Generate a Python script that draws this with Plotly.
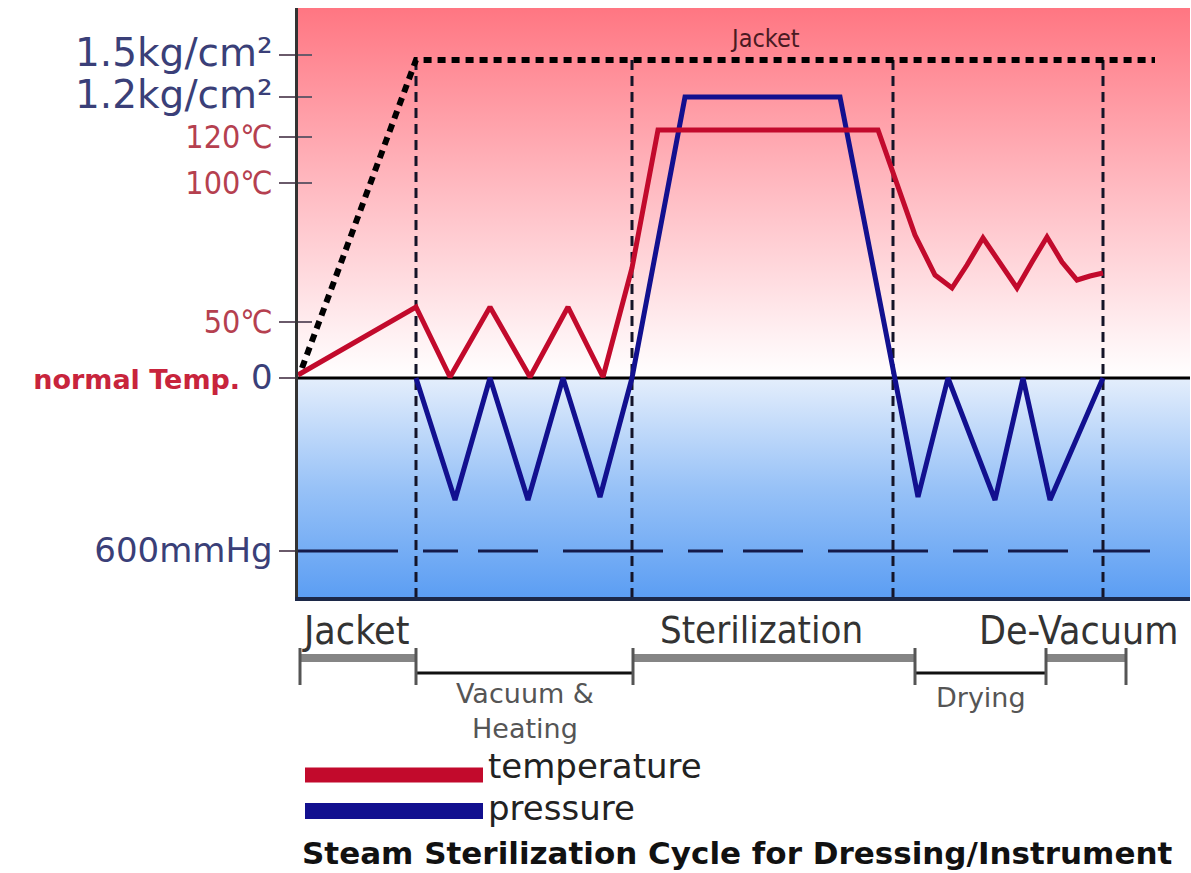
import plotly.graph_objects as go

# ---------------- data (time units, level units: 0 = normal temp / 0 pressure) -------------
temp_t = [0, 118, 152, 192, 232, 270, 305, 334, 360, 580, 617, 637, 654, 669, 685, 702, 719, 734, 749, 764, 779, 792, 805]
temp_v = [3, 71, 1, 71, 1, 71, 1, 110, 248, 248, 143, 103, 90, 113, 140, 116, 90, 116, 141, 116, 98, 102, 105]

pres_t = [118, 157, 192, 230, 265, 302, 334, 387, 542, 620, 650, 697, 725, 752, 805]
pres_v = [0, -122, 0, -122, 0, -119, 0, 281, 281, -119, 0, -122, 0, -122, 0]

jacket_t = [4, 118, 857]
jacket_v = [10, 318, 318]

vacuum_t = [0, 852]
vacuum_level = -173

phase_lines_t = [118, 334, 595, 805]

tick_vals = [323, 281, 241, 195, 56, 0, -173]
tick_text = [
    '<span style="color:#3a3f78;font-family:DejaVu Sans;font-size:39px">1.5kg/cm²</span>',
    '<span style="color:#3a3f78;font-family:DejaVu Sans;font-size:39px">1.2kg/cm²</span>',
    '<span style="color:#b5404f">120℃</span>',
    '<span style="color:#b5404f">100℃</span>',
    '<span style="color:#b5404f">50℃</span>',
    '<span style="color:#c8243c;font-family:DejaVu Sans;font-size:27px;font-weight:bold">normal Temp.</span>'
    '<span style="color:#3a3f78;font-family:DejaVu Sans;font-size:34px"> 0</span>',
    '<span style="color:#3a3f78;font-family:DejaVu Sans;font-size:34px">600mmHg</span>',
]

phase_names = ["Jacket", "Vacuum &amp;<br>Heating", "Sterilization", "Drying", "De-Vacuum"]
phase_edges = [2, 118, 335, 617, 748, 828]
phase_upper = [True, False, True, False, True]

X_RANGE = [0, 892]
Y_RANGE = [-219, 370]

COND = "DejaVu Sans Condensed, Liberation Sans Narrow, DejaVu Sans"
REG = "DejaVu Sans, Liberation Sans"
RED = "#c20a2c"
BLUE = "#12108f"

PLOT_TOP_PX, PLOT_BOT_PX = 8, 597


def py(p):
    """pixel row -> paper y"""
    return (PLOT_BOT_PX - p) / (PLOT_BOT_PX - PLOT_TOP_PX)


def pxp(p):
    """pixel column -> paper x"""
    return (p - 298) / 892


fig = go.Figure()

# background gradients
fig.add_trace(go.Scatter(
    x=[X_RANGE[0], X_RANGE[1], X_RANGE[1], X_RANGE[0], X_RANGE[0]],
    y=[0, 0, Y_RANGE[1], Y_RANGE[1], 0],
    mode="none", fill="toself",
    fillgradient=dict(type="vertical", start=0, stop=Y_RANGE[1],
                      colorscale=[[0, "#ffffff"], [0.12, "#fff0f2"], [0.5, "#ffbcc3"], [1, "#ff7682"]]),
    hoverinfo="skip", showlegend=False))
fig.add_trace(go.Scatter(
    x=[X_RANGE[0], X_RANGE[1], X_RANGE[1], X_RANGE[0], X_RANGE[0]],
    y=[Y_RANGE[0], Y_RANGE[0], 0, 0, Y_RANGE[0]],
    mode="none", fill="toself",
    fillgradient=dict(type="vertical", start=Y_RANGE[0], stop=0,
                      colorscale=[[0, "#5c9ef3"], [0.5, "#98c2f7"], [1, "#e4eefc"]]),
    hoverinfo="skip", showlegend=False))

# vacuum dashed line
fig.add_trace(go.Scatter(x=vacuum_t, y=[vacuum_level] * 2, mode="lines",
                         line=dict(color="#141a4a", width=3, dash="100px,25px,35px,20px,60px,25px"),
                         hoverinfo="skip", showlegend=False))

# phase vertical dashed lines
for t in phase_lines_t:
    fig.add_trace(go.Scatter(x=[t, t], y=[jacket_v[1], Y_RANGE[0]], mode="lines",
                             line=dict(color="#141428", width=3, dash="10px,6px"),
                             hoverinfo="skip", showlegend=False))

# zero line
fig.add_trace(go.Scatter(x=X_RANGE, y=[0, 0], mode="lines",
                         line=dict(color="black", width=3), hoverinfo="skip", showlegend=False))

# jacket dotted
fig.add_trace(go.Scatter(x=jacket_t, y=jacket_v, mode="lines",
                         line=dict(color="black", width=6, dash="8px,6px"),
                         hoverinfo="skip", showlegend=False))

# pressure & temperature
fig.add_trace(go.Scatter(x=pres_t, y=pres_v, mode="lines", name="pressure",
                         line=dict(color=BLUE, width=5), showlegend=False))
fig.add_trace(go.Scatter(x=temp_t, y=temp_v, mode="lines", name="temperature",
                         line=dict(color=RED, width=5), showlegend=False))

shapes = []
annotations = []

# inner part of the y ticks (ticks cross the axis line)
for v in tick_vals[:5]:
    shapes.append(dict(type="line", xref="x", yref="y", x0=0, x1=14, y0=v, y1=v,
                       line=dict(color="#6a5a6a", width=2)))

# jacket label on top
annotations.append(dict(x=467, y=340, xref="x", yref="y", text="Jacket", showarrow=False,
                        yanchor="middle", font=dict(family=COND, size=25, color="#4a1a22")))

# phase bar
Y_GRAY = py(658)
Y_BLACK = py(673)
for i, name in enumerate(phase_names):
    x0, x1 = phase_edges[i], phase_edges[i + 1]
    if phase_upper[i]:
        shapes.append(dict(type="line", xref="x", yref="paper", x0=x0, x1=x1, y0=Y_GRAY, y1=Y_GRAY,
                           line=dict(color="#858585", width=8)))
    else:
        shapes.append(dict(type="line", xref="x", yref="paper", x0=x0, x1=x1, y0=Y_BLACK, y1=Y_BLACK,
                           line=dict(color="#111111", width=3)))
for e in phase_edges:
    shapes.append(dict(type="line", xref="x", yref="paper", x0=e, x1=e, y0=py(648), y1=py(685),
                       line=dict(color="#555555", width=3)))

annotations += [
    dict(x=phase_edges[0], y=py(630), xref="x", yref="paper", xanchor="left", yanchor="middle",
         text=phase_names[0], showarrow=False, font=dict(family=COND, size=39, color="#333333")),
    dict(x=463, y=py(630), xref="x", yref="paper", xanchor="center", yanchor="middle",
         text=phase_names[2], showarrow=False, font=dict(family=COND, size=38, color="#333333")),
    dict(x=882, y=py(630), xref="x", yref="paper", xanchor="right", yanchor="middle",
         text=phase_names[4], showarrow=False, font=dict(family=COND, size=39, color="#333333")),
    dict(x=(phase_edges[1] + phase_edges[2]) / 2, y=py(711), xref="x", yref="paper", yanchor="middle",
         text=phase_names[1], showarrow=False, font=dict(family=REG, size=27, color="#555555")),
    dict(x=(phase_edges[3] + phase_edges[4]) / 2, y=py(697), xref="x", yref="paper", yanchor="middle",
         text=phase_names[3], showarrow=False, font=dict(family=REG, size=27, color="#555555")),
]

# legend
shapes.append(dict(type="line", xref="paper", yref="paper", x0=pxp(305), x1=pxp(483), y0=py(775), y1=py(775),
                   line=dict(color=RED, width=15)))
shapes.append(dict(type="line", xref="paper", yref="paper", x0=pxp(305), x1=pxp(483), y0=py(811), y1=py(811),
                   line=dict(color=BLUE, width=16)))
annotations += [
    dict(x=pxp(486), y=py(766), xref="paper", yref="paper", xanchor="left", yanchor="middle",
         text="temperature", showarrow=False, font=dict(family=REG, size=34, color="#222222")),
    dict(x=pxp(486), y=py(808), xref="paper", yref="paper", xanchor="left", yanchor="middle",
         text="pressure", showarrow=False, font=dict(family=REG, size=34, color="#222222")),
    dict(x=pxp(300), y=py(853), xref="paper", yref="paper", xanchor="left", yanchor="middle",
         text="<b>Steam Sterilization Cycle for Dressing/Instrument</b>",
         showarrow=False, font=dict(family=REG, size=31, color="#111111")),
]

fig.update_layout(
    width=1191, height=873,
    margin=dict(l=298, r=1, t=PLOT_TOP_PX, b=873 - PLOT_BOT_PX),
    paper_bgcolor="white", plot_bgcolor="white",
    font=dict(family=COND),
    shapes=shapes, annotations=annotations,
    xaxis=dict(range=X_RANGE, showgrid=False, zeroline=False, showticklabels=False, ticks="",
               showline=True, linecolor="#1c2848", linewidth=4, fixedrange=True),
    yaxis=dict(range=Y_RANGE, showgrid=False, zeroline=False, tickvals=tick_vals, ticktext=tick_text,
               ticks="outside", ticklen=16, tickwidth=2, tickcolor="#6a5a6a",
               tickfont=dict(family=COND, size=32),
               showline=True, linecolor="#333333", linewidth=3, fixedrange=True),
    showlegend=False,
)

fig.write_html("out.html", config={"displayModeBar": False},
               post_script="document.body.style.margin='0px';")
